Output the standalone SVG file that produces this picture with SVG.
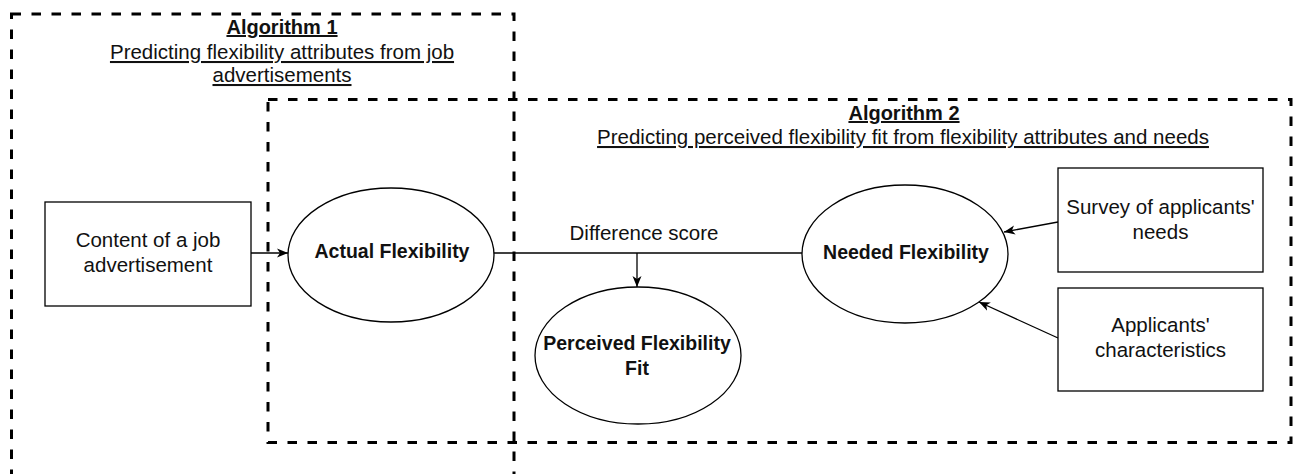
<svg xmlns="http://www.w3.org/2000/svg" width="1293" height="474" viewBox="0 0 1293 474">
<defs>
<style>
.grp{fill:none;stroke:#000;stroke-width:3;stroke-dasharray:9.5 10.5}
.node{fill:#fff;stroke:#000;stroke-width:1.3}
.edge{fill:none;stroke:#000;stroke-width:1.3}
text{font-family:"Liberation Sans",Arial,sans-serif;fill:#111;text-anchor:middle}
.t{font-size:20.5px}
.b{font-size:19.5px;font-weight:bold}
.h{font-size:20px;font-weight:bold;text-decoration:underline}
.s{font-size:20.5px;text-decoration:underline}
</style>
<marker id="arr" markerUnits="userSpaceOnUse" markerWidth="12" markerHeight="10" refX="11" refY="5" orient="auto">
<path d="M0,0.5 L11,5 L0,9.5 L3,5 z" fill="#000"/>
</marker>
</defs>
<rect width="1293" height="474" fill="#fff"/>
<g id="algorithm1">
<rect class="grp" x="11.5" y="14" width="502.5" height="520"/>
<text class="h" x="282" y="34">Algorithm 1</text>
<text class="s" x="282" y="59">Predicting flexibility attributes from job</text>
<text class="s" x="282" y="82">advertisements</text>
</g>
<g id="algorithm2">
<rect class="grp" x="268" y="99.5" width="1023" height="343"/>
<text class="h" x="904" y="120">Algorithm 2</text>
<text class="s" x="903" y="144">Predicting perceived flexibility fit from flexibility attributes and needs</text>
</g>
<g id="connectors">
<path class="edge" d="M251,253 L288,253" marker-end="url(#arr)"/>
<path class="edge" d="M494,253 L802,253"/>
<path class="edge" d="M637,253 L637,287" marker-end="url(#arr)"/>
<path class="edge" d="M1058,222 L1004,232" marker-end="url(#arr)"/>
<path class="edge" d="M1058,338 L979,302" marker-end="url(#arr)"/>
<text class="t" x="644" y="240">Difference score</text>
</g>
<g id="content">
<rect class="node" x="45" y="202" width="206" height="104"/>
<text class="t" x="148" y="247">Content of a job</text>
<text class="t" x="148" y="271.5">advertisement</text>
</g>
<g id="actual">
<ellipse class="node" cx="391" cy="255" rx="103" ry="67"/>
<text class="b" x="392" y="258">Actual Flexibility</text>
</g>
<g id="perceived">
<ellipse class="node" cx="638" cy="355.5" rx="103" ry="68.5"/>
<text class="b" x="637" y="349.5">Perceived Flexibility</text>
<text class="b" x="637" y="374.5">Fit</text>
</g>
<g id="needed">
<ellipse class="node" cx="905" cy="254" rx="103" ry="69"/>
<text class="b" x="906" y="259">Needed Flexibility</text>
</g>
<g id="survey">
<rect class="node" x="1058" y="168" width="205" height="104"/>
<text class="t" x="1160.5" y="214">Survey of applicants'</text>
<text class="t" x="1160.5" y="239">needs</text>
</g>
<g id="applicants">
<rect class="node" x="1058" y="288" width="205" height="103"/>
<text class="t" x="1160.5" y="331.5">Applicants'</text>
<text class="t" x="1160.5" y="356.5">characteristics</text>
</g>
</svg>
